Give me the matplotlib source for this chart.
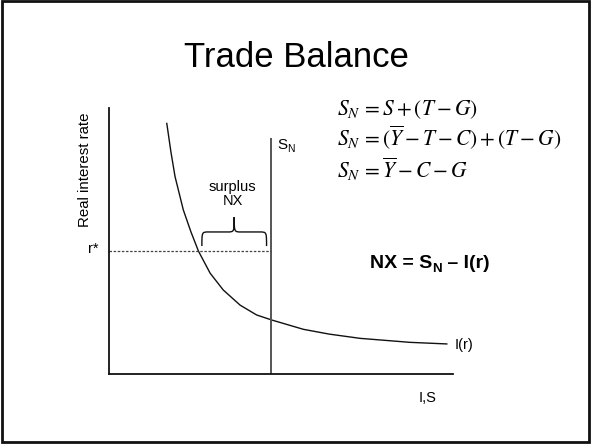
import matplotlib

matplotlib.use("Agg")
import matplotlib.pyplot as plt
from matplotlib.patches import Rectangle, PathPatch
from matplotlib.path import Path

plt.rcParams["font.family"] = ["Liberation Sans", "DejaVu Sans"]
plt.rcParams["mathtext.fontset"] = "stix"

# Investment schedule I(r) (axis units 0..10)
inv_x = [1.68, 1.80, 1.92, 2.16, 2.38, 2.60, 2.94, 3.32, 3.81, 4.29, 4.73, 5.65, 6.40, 7.30, 8.75, 9.82]
inv_y = [9.42, 8.35, 7.42, 6.17, 5.35, 4.62, 3.79, 3.16, 2.59, 2.22, 2.03, 1.68, 1.50, 1.34, 1.19, 1.13]

# National saving S_N (vertical) and world rate r*
sn_x = 4.70
sn_top = 8.87
r_star = 4.64

# Surplus brace spans from I(r) at r* to S_N
brace_x0 = 2.70
brace_x1 = 4.58

equations = [
    r"$S_N\, = S + (T - G)$",
    r"$S_N\, = (\overline{Y} - T - C) + (T - G)$",
    r"$S_N\, = \overline{Y} - C - G$",
]

W, H = 592, 444
fig = plt.figure(figsize=(W / 100, H / 100), dpi=100)
fig.patch.set_facecolor("white")
fig.patches.append(Rectangle((1.5 / W, 2.5 / H), 587 / W, 440 / H, transform=fig.transFigure,
                             fill=False, edgecolor="#111111", linewidth=2))

ax = fig.add_axes([109 / W, 70 / H, 344 / W, 266 / H])
ax.set_xlim(0, 10)
ax.set_ylim(0, 10)
ax.set_xticks([])
ax.set_yticks([])
for side in ("top", "right"):
    ax.spines[side].set_visible(False)
for side in ("left", "bottom"):
    ax.spines[side].set_color("#111111")
    ax.spines[side].set_linewidth(1.3)

ax.plot(inv_x, inv_y, color="#111111", linewidth=1.0, clip_on=False)
ax.vlines(sn_x, 0, sn_top, color="#555555", linewidth=1.4)
ax.hlines(r_star, 0, sn_x, color="#444444", linewidth=0.9, linestyles=(0, (2, 1.3)))

# Curly brace over the surplus
mid = (brace_x0 + brace_x1) / 2
yb, yf, yt = r_star + 0.17, r_star + 0.70, r_star + 1.26
dx = 0.2
verts = [
    (brace_x0, yb), (brace_x0, yf), (brace_x0, yf), (brace_x0 + dx, yf),
    (mid - dx, yf),
    (mid, yf), (mid, yf), (mid, yt),
    (mid, yf), (mid, yf), (mid + dx, yf),
    (brace_x1 - dx, yf),
    (brace_x1, yf), (brace_x1, yf), (brace_x1, yb),
]
codes = [
    Path.MOVETO, Path.CURVE4, Path.CURVE4, Path.CURVE4,
    Path.LINETO,
    Path.CURVE4, Path.CURVE4, Path.CURVE4,
    Path.CURVE4, Path.CURVE4, Path.CURVE4,
    Path.LINETO,
    Path.CURVE4, Path.CURVE4, Path.CURVE4,
]
ax.add_patch(PathPatch(Path(verts, codes), fill=False, edgecolor="#111111", linewidth=1.0))

ax.text(mid - 0.04, 7.03, "surplus", ha="center", va="center", fontsize=10.5)
ax.text(mid - 0.04, 6.50, "NX", ha="center", va="center", fontsize=10.5)
ax.text(-0.30, r_star + 0.05, "r*", ha="right", va="center", fontsize=10.5)
ax.text(-0.70, 7.67, "Real interest rate", rotation=90, ha="center", va="center", fontsize=10.8)
ax.text(10.06, 1.09, "I(r)", ha="left", va="center", fontsize=10.5)
ax.text(9.27, -0.90, "I,S", ha="center", va="center", fontsize=10.5)

fig.text(296 / W, 1 - 67 / H, "Trade Balance", ha="center", va="baseline", fontsize=25)

for i, eq in enumerate(equations):
    fig.text(337 / W, 1 - (115 + 31.5 * i) / H, eq, ha="left", va="baseline", fontsize=15.5)

renderer = fig.canvas.get_renderer()


def sub_text(x_px, y_px, base, sub, tail, size, weight="normal"):
    """Text with a sans-serif subscript, placed in figure pixels (y from top)."""
    t = fig.text(x_px / W, 1 - y_px / H, base, fontsize=size, fontweight=weight, va="baseline")
    x1 = t.get_window_extent(renderer).x1
    drop = size * 0.22 * 100 / 72
    s = fig.text(x1 / W, 1 - (y_px + drop) / H, sub, fontsize=size * 0.68, fontweight=weight,
                 va="baseline")
    if tail:
        x2 = s.get_window_extent(renderer).x1
        fig.text(x2 / W, 1 - y_px / H, tail, fontsize=size, fontweight=weight, va="baseline")


sub_text(277, 149, "S", "N", "", 11)
sub_text(370, 268, "NX = S", "N", " \u2013 I(r)", 14, "bold")

fig.savefig("out.png", dpi=100)
plt.close(fig)
